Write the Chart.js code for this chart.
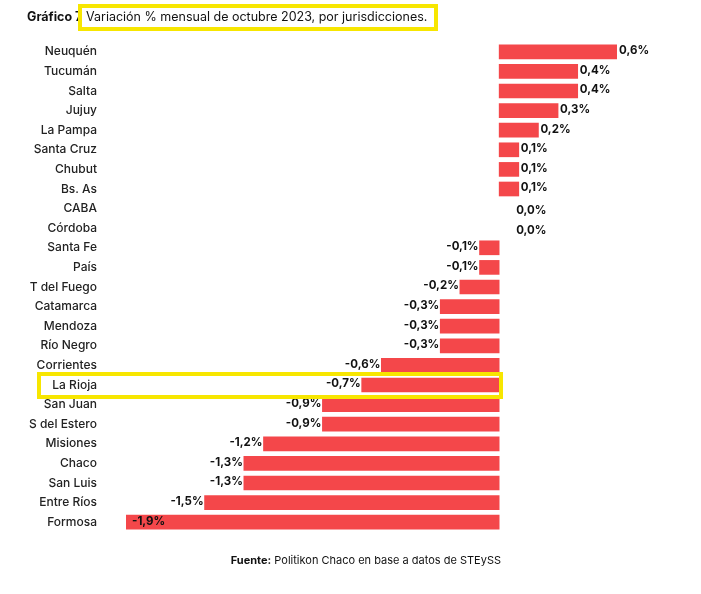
<!DOCTYPE html>
<html>
<head>
<meta charset="utf-8">
<script src="https://cdn.jsdelivr.net/npm/chart.js@4"></script>
<style>
  html, body { margin: 0; padding: 0; background: #fff; }
  #wrap { position: relative; width: 701px; height: 594px; }
</style>
</head>
<body>
<div id="wrap"><canvas id="myChart" width="701" height="594"></canvas></div>
<script>
const provincias = ['Neuquén', 'Tucumán', 'Salta', 'Jujuy', 'La Pampa', 'Santa Cruz', 'Chubut', 'Bs. As', 'CABA', 'Córdoba',
  'Santa Fe', 'País', 'T del Fuego', 'Catamarca', 'Mendoza', 'Río Negro', 'Corrientes', 'La Rioja', 'San Juan',
  'S del Estero', 'Misiones', 'Chaco', 'San Luis', 'Entre Ríos', 'Formosa'];
const variacion = [0.6, 0.4, 0.4, 0.3, 0.2, 0.1, 0.1, 0.1, 0.0, 0.0,
  -0.1, -0.1, -0.2, -0.3, -0.3, -0.3, -0.6, -0.7, -0.9,
  -0.9, -1.2, -1.3, -1.3, -1.5, -1.9];
const destacada = 'La Rioja';
const titulo = 'Variación % mensual de octubre 2023, por jurisdicciones.';
const fuente = 'Politikon Chaco en base a datos de STEySS';

const ctx = document.getElementById('myChart');
const FONT = 'Inter, "Open Sans", sans-serif';
const fmt = v => v.toFixed(1).replace('.', ',') + '%';

const extras = {
  id: 'extras',
  afterDatasetsDraw(chart) {
    const c = chart.ctx, x = chart.scales.x, y = chart.scales.y;
    const meta = chart.getDatasetMeta(0);
    c.save();
    c.fillStyle = '#111';
    c.font = '700 11.5px ' + FONT;
    c.textBaseline = 'middle';
    meta.data.forEach((bar, i) => {
      const v = variacion[i];
      const yy = bar.y - 1;
      if (v > 0) { c.textAlign = 'left'; c.fillText(fmt(v), bar.x + 2, yy); }
      else if (v === 0) { c.textAlign = 'left'; c.fillText(fmt(v), x.getPixelForValue(0) + 17, yy + 3); }
      else if (i === variacion.length - 1) { c.textAlign = 'left'; c.fillText(fmt(v), bar.x + 6, yy); }
      else { c.textAlign = 'right'; c.fillText(fmt(v), bar.x - 1, yy); }
    });

    // yellow highlight round La Rioja
    const yr = y.getPixelForValue(provincias.indexOf(destacada));
    c.strokeStyle = '#f7e600';
    c.lineWidth = 4;
    c.strokeRect(39, yr - 11, 462, 23);

    // title
    c.textBaseline = 'middle';
    c.textAlign = 'left';
    c.font = '700 12.5px ' + FONT;
    c.fillText('Gráfico 7', 27, 17);
    c.strokeRect(80, 6, 356, 23);
    c.font = '400 12.5px ' + FONT;
    c.fillText(titulo, 86, 17.5);

    // source
    c.font = '700 11px ' + FONT;
    const w1 = c.measureText('Fuente:').width;
    c.font = '400 11px ' + FONT;
    const w2 = c.measureText(' ' + fuente).width;
    const x0 = 501 - w1 - w2;
    c.font = '700 11px ' + FONT;
    c.fillText('Fuente:', x0, 561);
    c.font = '400 11px ' + FONT;
    c.fillText(' ' + fuente, x0 + w1, 561);
    c.restore();
  }
};

new Chart(ctx, {
  type: 'bar',
  data: {
    labels: provincias,
    datasets: [{
      data: variacion,
      backgroundColor: variacion.map(v => v === 0 ? 'rgba(0,0,0,0)' : '#f4474a'),
      barThickness: 14,
      borderWidth: 0
    }]
  },
  options: {
    indexAxis: 'y',
    responsive: false,
    animation: false,
    layout: { padding: { top: 42, bottom: 62, right: 84, left: 0 } },
    plugins: { legend: { display: false }, tooltip: { enabled: false } },
    scales: {
      x: { display: false, min: -1.9, max: 0.6 },
      y: {
        grid: { display: false, drawTicks: false },
        border: { display: false },
        ticks: { color: '#222', font: { family: FONT, size: 12, weight: '500' }, padding: 29 },
        afterFit(scale) { scale.width = 126; }
      }
    }
  },
  plugins: [extras]
});
</script>
</body>
</html>
